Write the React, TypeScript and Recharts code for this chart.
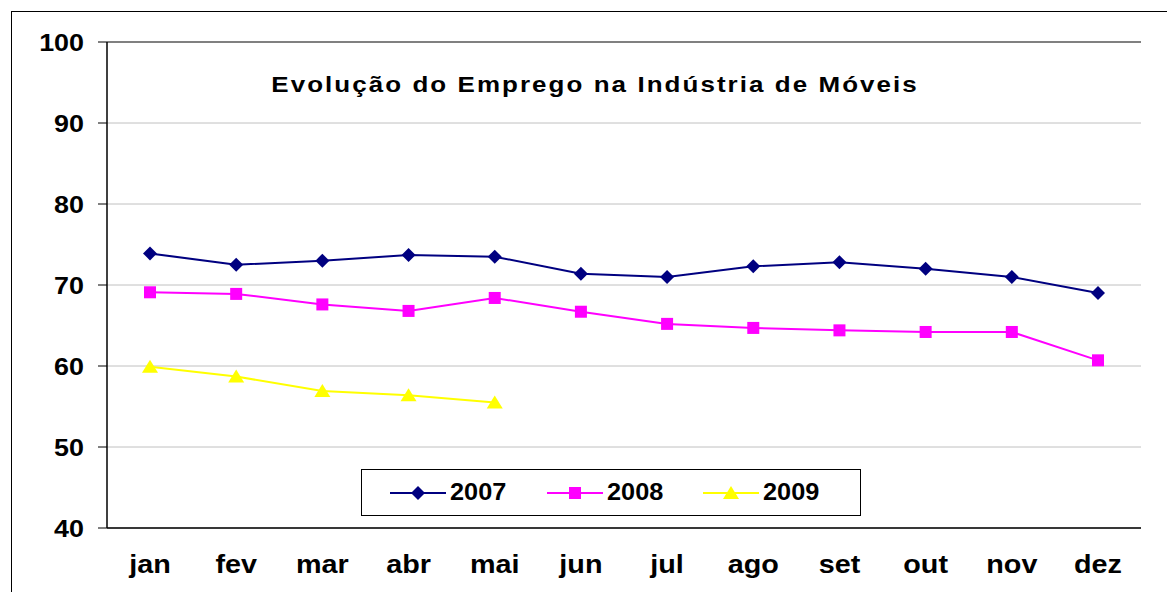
import { CartesianGrid, Legend, Line, LineChart, ReferenceLine, XAxis, YAxis } from "recharts";

const months = ["jan", "fev", "mar", "abr", "mai", "jun", "jul", "ago", "set", "out", "nov", "dez"];
const emp2007 = [73.9, 72.5, 73.0, 73.7, 73.5, 71.4, 71.0, 72.3, 72.8, 72.0, 71.0, 69.0];
const emp2008 = [69.1, 68.9, 67.6, 66.8, 68.4, 66.7, 65.2, 64.7, 64.4, 64.2, 64.2, 60.7];
const emp2009 = [59.9, 58.7, 56.9, 56.4, 55.5, null, null, null, null, null, null, null];
const yTicks = [40, 50, 60, 70, 80, 90, 100];
const monthEdges = [0, 1, 2, 3, 4, 5, 6, 7, 8, 9, 10, 11, 12];

const FONT = '"Liberation Sans", Arial, sans-serif';

const data = months.map((month, i) => ({
  month,
  y2007: emp2007[i],
  y2008: emp2008[i],
  y2009: emp2009[i],
}));

const series = [
  { key: "y2007", name: "2007", color: "#000080", shape: "diamond" },
  { key: "y2008", name: "2008", color: "#ff00ff", shape: "square" },
  { key: "y2009", name: "2009", color: "#ffff00", shape: "triangle" },
];

function Marker({ shape, cx, cy, color }: { shape: string; cx: number; cy: number; color: string }) {
  if (shape === "diamond") {
    return <polygon points={`${cx},${cy - 7} ${cx + 7},${cy} ${cx},${cy + 7} ${cx - 7},${cy}`} fill={color} />;
  }
  if (shape === "square") {
    return <rect x={cx - 6} y={cy - 6} width={12} height={12} fill={color} />;
  }
  return <polygon points={`${cx},${cy - 7} ${cx + 8},${cy + 6} ${cx - 8},${cy + 6}`} fill={color} />;
}

function makeDot(shape: string, color: string) {
  return (props: any) => {
    const { cx, cy, index } = props;
    if (cx == null || cy == null || props.value == null) return <g key={`d-${index}`} />;
    return (
      <g key={`d-${index}`}>
        <Marker shape={shape} cx={cx} cy={cy} color={color} />
      </g>
    );
  };
}

// text in the original looks stretched sideways, so scale it a bit
function YTick({ x, y, payload }: any) {
  return (
    <text
      transform={`translate(${x},${y + 8.5}) scale(1.12,1)`}
      textAnchor="end"
      fontFamily={FONT}
      fontWeight={700}
      fontSize={24}
      fill="#000"
    >
      {payload.value}
    </text>
  );
}

function XTick({ x, y, payload }: any) {
  return (
    <text
      transform={`translate(${x},${y + 45}) scale(1.15,1)`}
      textAnchor="middle"
      fontFamily={FONT}
      fontWeight={700}
      fontSize={25}
      fill="#000"
    >
      {payload.value}
    </text>
  );
}

function LegendBox() {
  return (
    <div
      style={{
        display: "flex",
        alignItems: "center",
        boxSizing: "border-box",
        width: "100%",
        height: "100%",
        border: "1px solid #000",
        background: "#fff",
        paddingLeft: 28,
      }}
    >
      {series.map((s) => (
        <div key={s.key} style={{ display: "flex", alignItems: "center", width: 167 }}>
          <svg width={56} height={20}>
            <line x1={0} y1={10} x2={56} y2={10} stroke={s.color} strokeWidth={2} />
            <Marker shape={s.shape} cx={28} cy={10} color={s.color} />
          </svg>
          <span
            style={{
              display: "inline-block",
              fontFamily: FONT,
              fontWeight: 700,
              fontSize: 23,
              marginLeft: 4,
              color: "#000",
              transform: "scaleX(1.1)",
              transformOrigin: "left center",
            }}
          >
            {s.name}
          </span>
        </div>
      ))}
    </div>
  );
}

export default function App() {
  return (
    <div
      style={{
        position: "absolute",
        left: 0,
        top: 0,
        width: 1167,
        height: 592,
        overflow: "hidden",
        background: "#fff",
      }}
    >
      <div
        style={{
          position: "absolute",
          left: 11,
          top: 11,
          width: 1300,
          height: 800,
          border: "1.5px solid #000",
        }}
      />
      <LineChart
        width={1167}
        height={592}
        data={data}
        margin={{ top: 42, right: 26, left: 0, bottom: 0 }}
        style={{ position: "absolute", left: 0, top: 0 }}
      >
        <CartesianGrid vertical={false} stroke="#c0c0c0" strokeWidth={1} />
        <XAxis
          xAxisId="edges"
          type="number"
          domain={[0, 12]}
          ticks={monthEdges}
          allowDataOverflow
          height={0}
          axisLine={false}
          tickSize={8}
          tickLine={{ stroke: "#000", strokeWidth: 1 }}
          tickFormatter={() => ""}
        />
        <XAxis
          dataKey="month"
          height={64}
          padding={{ left: 43, right: 43 }}
          axisLine={{ stroke: "#000", strokeWidth: 1.5 }}
          tickLine={false}
          tickSize={0}
          tickMargin={0}
          interval={0}
          tick={<XTick />}
        />
        <YAxis
          width={107}
          domain={[40, 100]}
          ticks={yTicks}
          allowDataOverflow
          axisLine={{ stroke: "#000", strokeWidth: 1.5 }}
          tickLine={{ stroke: "#000", strokeWidth: 1 }}
          tickSize={9}
          tickMargin={14}
          tick={<YTick />}
        />
        <ReferenceLine y={100} stroke="#808080" strokeWidth={2} />
        <ReferenceLine x={12} xAxisId="edges" stroke="#808080" strokeWidth={2} />
        {series.map((s) => (
          <Line
            key={s.key}
            type="linear"
            dataKey={s.key}
            name={s.name}
            stroke={s.color}
            strokeWidth={2}
            dot={makeDot(s.shape, s.color)}
            activeDot={false}
            isAnimationActive={false}
          />
        ))}
        <Legend
          layout="horizontal"
          verticalAlign="middle"
          align="center"
          content={() => <LegendBox />}
          wrapperStyle={{ left: 361, top: 469, width: 500, height: 47 }}
        />
      </LineChart>
      <svg width={1167} height={592} style={{ position: "absolute", left: 0, top: 0, pointerEvents: "none" }}>
        <text
          transform="translate(594,92) scale(1.18,1)"
          textAnchor="middle"
          textLength={547}
          lengthAdjust="spacing"
          fontFamily={FONT}
          fontWeight={700}
          fontSize={22}
          fill="#000"
        >
          Evolução do Emprego na Indústria de Móveis
        </text>
      </svg>
    </div>
  );
}
